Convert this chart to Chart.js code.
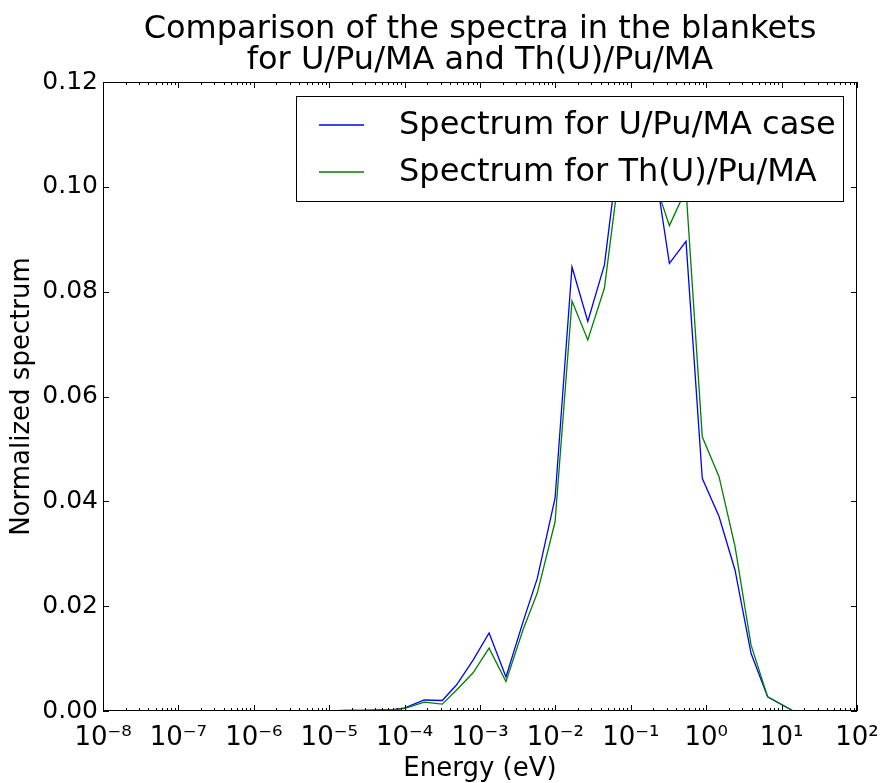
<!DOCTYPE html>
<html>
<head>
<meta charset="utf-8">
<script src="https://cdn.jsdelivr.net/npm/chart.js@4.4.0/dist/chart.umd.min.js"></script>
<style>
html, body { margin: 0; padding: 0; background: #fff; }
#wrap { width: 883px; height: 783px; }
</style>
</head>
<body>
<div id="wrap"><canvas id="spectrum" width="883" height="783"></canvas></div>
<script>
// energy group points (eV)
const energies = [1.0e-5, 1.66e-5, 2.75e-5, 4.57e-5, 6.8e-5, 1.01e-4, 1.82e-4, 3.16e-4, 4.9e-4, 8.1e-4,
    1.32e-3, 2.21e-3, 3.72e-3, 5.75e-3, 9.9e-3, 1.66e-2, 2.69e-2, 4.47e-2, 7.33e-2, 0.120,
    0.197, 0.325, 0.54, 0.887, 1.48, 2.41, 3.93, 6.53, 14.3];
const spectrumUPu = [0.0000, 0.0001, 0.0001, 0.0002, 0.0002, 0.0006, 0.0021, 0.0020, 0.0050, 0.0097,
    0.0149, 0.0065, 0.0170, 0.0253, 0.0406, 0.0847, 0.0743, 0.0851, 0.110, 0.115,
    0.106, 0.0854, 0.0896, 0.0444, 0.0371, 0.0269, 0.0110, 0.0027, 0.0000];
const spectrumThU = [0.0000, 0.0001, 0.0001, 0.0001, 0.0002, 0.0005, 0.0017, 0.0013, 0.0040, 0.0073,
    0.0120, 0.0056, 0.0155, 0.0225, 0.0361, 0.0782, 0.0708, 0.0807, 0.105, 0.111,
    0.102, 0.0926, 0.0995, 0.0523, 0.0447, 0.0314, 0.0126, 0.0027, 0.0000];
const xDecades = [-8, -7, -6, -5, -4, -3, -2, -1, 0, 1, 2];
const yTicks = [0, 0.02, 0.04, 0.06, 0.08, 0.10, 0.12];
const titleLines = ['Comparison of the spectra in the blankets', 'for U/Pu/MA and Th(U)/Pu/MA'];

const FONT = 'DejaVu Sans';
const supDigits = {'-': '\u207B', '0': '\u2070', '1': '\u00B9', '2': '\u00B2', '3': '\u00B3',
    '4': '\u2074', '5': '\u2075', '6': '\u2076', '7': '\u2077', '8': '\u2078', '9': '\u2079'};
function pow10Label(v) {
    let e = String(Math.round(Math.log10(v)));
    return '10' + e.split('').map(c => supDigits[c]).join('');
}

// frame, inward ticks, title and legend box, drawn like the old matplotlib look
const decorations = {
    id: 'decorations',
    afterDatasetsDraw(chart) {
        const {ctx, chartArea: a, scales: {x, y}} = chart;
        ctx.save();
        ctx.strokeStyle = '#000';
        ctx.lineWidth = 1;
        ctx.beginPath();
        for (let e = -8; e <= 2; e++) {
            for (let m = 1; m <= 9; m++) {
                const v = m * Math.pow(10, e);
                if (v > 100) break;
                const px = Math.round(x.getPixelForValue(v)) + 0.5;
                const len = m === 1 ? 6 : 3;
                ctx.moveTo(px, a.bottom); ctx.lineTo(px, a.bottom - len);
                ctx.moveTo(px, a.top); ctx.lineTo(px, a.top + len);
            }
        }
        yTicks.forEach(v => {
            const py = Math.round(y.getPixelForValue(v)) + 0.5;
            ctx.moveTo(a.left, py); ctx.lineTo(a.left + 6, py);
            ctx.moveTo(a.right, py); ctx.lineTo(a.right - 6, py);
        });
        ctx.stroke();
        ctx.strokeRect(a.left + 0.5, a.top + 0.5, a.width - 1, a.height - 1);

        // title
        ctx.fillStyle = '#000';
        ctx.font = '32px "' + FONT + '"';
        ctx.textAlign = 'center';
        ctx.textBaseline = 'alphabetic';
        const cx = (a.left + a.right) / 2;
        ctx.fillText(titleLines[0], cx, 38);
        ctx.fillText(titleLines[1], cx, 69);

        // legend
        const box = {x: 296.5, y: 96.5, w: 547, h: 105};
        ctx.fillStyle = '#fff';
        ctx.fillRect(box.x, box.y, box.w, box.h);
        ctx.strokeRect(box.x, box.y, box.w, box.h);
        ctx.font = '32px "' + FONT + '"';
        ctx.textAlign = 'left';
        ctx.textBaseline = 'middle';
        chart.data.datasets.forEach((ds, i) => {
            const ly = 125 + i * 47;
            ctx.strokeStyle = ds.borderColor;
            ctx.lineWidth = 1.3;
            ctx.beginPath();
            ctx.moveTo(319, ly); ctx.lineTo(364, ly);
            ctx.stroke();
            ctx.fillStyle = '#000';
            ctx.fillText(ds.label, 399, ly + 1);
        });
        ctx.restore();
    }
};

const ctxSpectrum = document.getElementById('spectrum');
new Chart(ctxSpectrum, {
    type: 'line',
    data: {
        datasets: [{
            label: 'Spectrum for U/Pu/MA case',
            data: energies.map((e, i) => ({x: e, y: spectrumUPu[i]})),
            borderColor: '#0000ff',
            borderWidth: 1.3,
            pointRadius: 0,
            tension: 0,
            order: 1
        }, {
            label: 'Spectrum for Th(U)/Pu/MA',
            data: energies.map((e, i) => ({x: e, y: spectrumThU[i]})),
            borderColor: '#008000',
            borderWidth: 1.3,
            pointRadius: 0,
            tension: 0,
            order: 0
        }]
    },
    options: {
        responsive: false,
        animation: false,
        devicePixelRatio: 1,
        layout: { padding: { top: 82, right: 26, left: 0, bottom: 0 } },
        plugins: {
            legend: { display: false },
            title: { display: false },
            tooltip: { enabled: false }
        },
        scales: {
            x: {
                type: 'logarithmic',
                position: 'bottom',
                min: 1e-8,
                max: 1e2,
                grid: { display: false, drawTicks: false },
                border: { display: false },
                afterBuildTicks: s => { s.ticks = xDecades.map(e => ({value: Math.pow(10, e)})); },
                afterFit: s => { s.height = 72; s.paddingLeft = 0; s.paddingRight = 0; },
                ticks: {
                    autoSkip: false,
                    maxRotation: 0,
                    padding: 12,
                    color: '#000',
                    font: { family: FONT, size: 26 },
                    callback: v => pow10Label(v)
                },
                title: {
                    display: true,
                    text: 'Energy (eV)',
                    color: '#000',
                    font: { family: FONT, size: 26 },
                    padding: { top: 0, bottom: -2 }
                }
            },
            y: {
                type: 'linear',
                min: 0,
                max: 0.12,
                grid: { display: false, drawTicks: false },
                border: { display: false },
                afterBuildTicks: s => { s.ticks = yTicks.map(v => ({value: v})); },
                afterFit: s => { s.width = 103; },
                ticks: {
                    padding: 5,
                    color: '#000',
                    font: { family: FONT, size: 25 },
                    callback: v => v.toFixed(2)
                },
                title: {
                    display: true,
                    text: 'Normalized spectrum',
                    color: '#000',
                    font: { family: FONT, size: 26 },
                    padding: { top: 7, bottom: 0 }
                }
            }
        }
    },
    plugins: [decorations]
});
</script>
</body>
</html>
